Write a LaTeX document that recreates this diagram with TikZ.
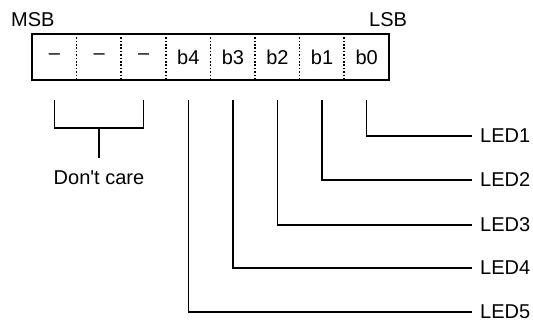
\documentclass[tikz,border=0pt]{standalone}
\usepackage{fontspec}
\setmainfont{Liberation Sans}
\usetikzlibrary{calc}
\begin{document}
\begin{tikzpicture}[x=1pt,y=-1pt,
  every node/.style={font=\fontsize{20}{23}\selectfont},
  cell/.style={minimum width=44.6pt,minimum height=46pt,inner sep=0pt,anchor=west},
  wire/.style={line width=1.3pt},
  frame/.style={line width=2pt},
  divider/.style={line width=1.6pt,dash pattern=on 1.6pt off 1.8pt},
  ledlabel/.style={anchor=west,inner xsep=8pt,inner ysep=0pt}]
\useasboundingbox (0,0) rectangle (533,322);
% register cells, most significant bit first
\foreach \t [count=\i from 0] in {{--},{--},{--},b4,b3,b2,b1,b0}{
  \node[cell] (c\i) at ({32+44.6*\i},57) {\t};
}
\draw[frame] (c0.north west) rectangle (c7.south east);
\foreach \i in {1,...,7}{
  \draw[divider] (c\i.north west) -- (c\i.south west);
}
\node[anchor=base west,inner sep=0pt] (msb) at (11,26) {MSB};
\node[anchor=base west,inner sep=0pt] (lsb) at (369,26) {LSB};
% don't-care bracket
\coordinate (bl) at ($(c0.south)+(0,20)$);
\coordinate (br) at ($(c2.south)+(0,20)$);
\coordinate (bm) at (99,128);
\draw[wire] (bl) |- (bm) -| (br);
\node[anchor=base,inner sep=0pt] (dc) at (99,184) {Don\textquotesingle t care};
\draw[wire] (bm) -- (99,158);
% LED outputs
\foreach \n/\y [evaluate=\n as \c using int(8-\n)] in {1/136,2/180,3/225,4/268,5/312}{
  \node[ledlabel] (led\n) at (472,\y) {LED\n};
  \draw[wire] ($(c\c.south)+(0,20)$) |- (led\n.west);
}
\end{tikzpicture}
\end{document}
